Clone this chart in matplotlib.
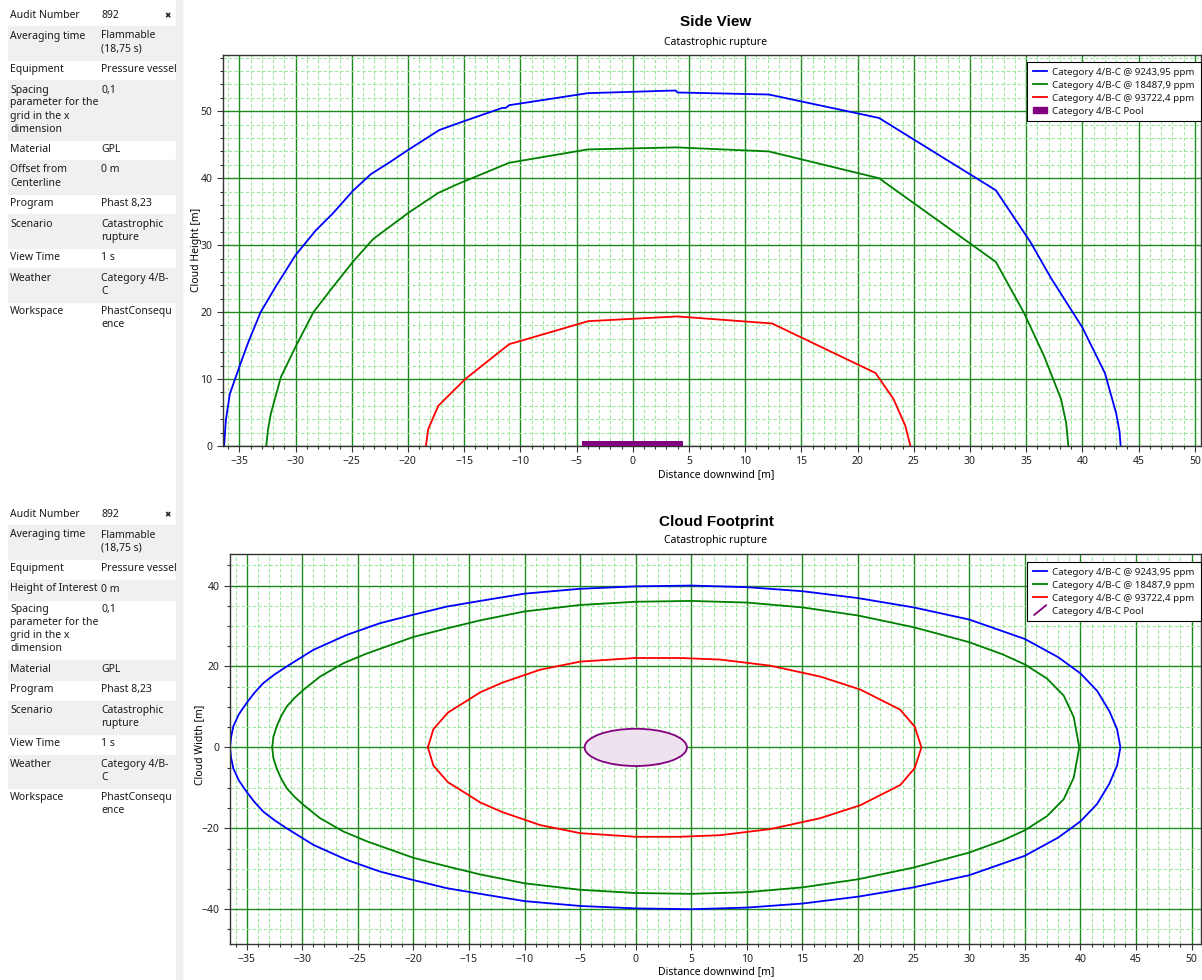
import numpy as np
import matplotlib.pyplot as plt
import matplotlib.patches as mpatches
from matplotlib.lines import Line2D
from matplotlib.legend_handler import HandlerBase
from matplotlib.ticker import MultipleLocator

plt.rcParams['font.family'] = ['Noto Sans', 'DejaVu Sans']

W, H = 1202, 980

# ---- side view (height vs distance) ----
side_blue_x = [-36.35, -36.2, -35.84, -35.0, -34.2, -33.1, -31.8, -30.0, -28.2, -26.7, -24.9, -23.3, -21.6,
               -20.0, -17.2, -14.7, -11.6, -11.3, -11.0, -4.0, 3.8, 4.0, 12.1, 21.9, 32.3, 35.4, 37.2, 40.0,
               42.0, 43.0, 43.3, 43.4]
side_blue_y = [0, 3.8, 7.8, 11.8, 15.5, 20.0, 23.7, 28.5, 32.2, 34.7, 38.1, 40.6, 42.4,
               44.2, 47.2, 48.7, 50.5, 50.5, 50.9, 52.7, 53.1, 52.8, 52.5, 49.0, 38.2, 30.4, 25.1, 17.7,
               10.9, 4.9, 2.2, 0]
side_green_x = [-32.6, -32.45, -32.2, -31.3, -30.0, -28.4, -26.7, -24.9, -23.1, -19.9, -17.3, -15.6, -11.0,
                -4.0, 3.9, 12.1, 21.9, 32.3, 34.8, 36.6, 38.1, 38.55, 38.75]
side_green_y = [0, 2.4, 4.8, 10.3, 14.8, 20.0, 23.7, 27.5, 30.9, 34.9, 37.8, 39.1, 42.3,
                44.3, 44.6, 44.0, 40.0, 27.5, 19.9, 13.4, 7.0, 3.5, 0]
side_red_x = [-18.4, -18.2, -17.3, -14.9, -11.0, -3.95, 3.98, 12.4, 21.6, 23.2, 24.25, 24.7]
side_red_y = [0, 2.5, 6.0, 10.0, 15.2, 18.65, 19.35, 18.3, 10.9, 7.0, 3.0, 0]
pool_x0, pool_x1, pool_h = -4.5, 4.5, 0.75

# ---- footprint (upper half, mirrored below) ----
foot_blue_x = [-36.5, -36.4, -36.2, -35.7, -35.0, -34.3, -33.5, -32.5, -31.4, -29.0, -26.0, -23.0, -20.0,
               -17.0, -14.0, -10.0, -5.0, 0.0, 5.0, 10.0, 15.0, 20.0, 25.0, 30.0, 35.0, 38.0, 40.0, 41.5,
               42.6, 43.3, 43.6]
foot_blue_y = [0, 2.6, 5.2, 8.2, 11.0, 13.5, 15.9, 18.0, 20.0, 24.1, 27.8, 30.7, 32.8,
               34.8, 36.2, 38.0, 39.2, 39.8, 40.0, 39.6, 38.6, 36.9, 34.6, 31.6, 26.8, 22.3, 18.3, 14.0,
               9.0, 4.5, 0]
foot_green_x = [-32.7, -32.6, -32.3, -31.9, -31.4, -30.7, -29.9, -28.4, -26.3, -24.2, -20.0, -17.0, -14.0,
                -10.0, -5.0, 0.0, 5.0, 10.0, 15.0, 20.0, 25.0, 30.0, 33.0, 35.0, 37.0, 38.5, 39.4, 39.9]
foot_green_y = [0, 2.6, 5.2, 7.7, 10.1, 12.2, 14.2, 17.5, 20.8, 23.2, 27.3, 29.4, 31.4,
                33.6, 35.2, 36.0, 36.2, 35.8, 34.6, 32.6, 29.7, 26.0, 23.0, 20.5, 17.0, 12.8, 7.5, 0]
foot_red_x = [-18.7, -18.2, -16.9, -15.2, -14.0, -12.0, -8.6, -5.0, 0.0, 4.0, 7.6, 12.1, 16.6, 20.2,
              23.8, 25.1, 25.7]
foot_red_y = [0, 4.5, 8.6, 11.5, 13.6, 16.0, 19.2, 21.2, 22.1, 22.1, 21.7, 20.2, 17.5, 14.3,
              9.3, 5.1, 0]
pool_center = (0.0, 0.0)
pool_diam = 9.2

labels = ['Category 4/B-C @ 9243,95 ppm', 'Category 4/B-C @ 18487,9 ppm',
          'Category 4/B-C @ 93722,4 ppm', 'Category 4/B-C Pool']
c_blue, c_green, c_red, c_pool = '#0000ff', '#008000', '#ff0000', '#800080'

top_fields = ['Audit Number', 'Averaging time', 'Equipment',
              'Spacing\nparameter for the\ngrid in the x\ndimension', 'Material',
              'Offset from\nCenterline', 'Program', 'Scenario', 'View Time', 'Weather', 'Workspace']
top_values = ['892', 'Flammable\n(18,75 s)', 'Pressure vessel', '0,1', 'GPL', '0 m', 'Phast 8,23',
              'Catastrophic\nrupture', '1 s', 'Category 4/B-\nC', 'PhastConsequ\nence']
bot_fields = ['Audit Number', 'Averaging time', 'Equipment', 'Height of Interest',
              'Spacing\nparameter for the\ngrid in the x\ndimension', 'Material', 'Program', 'Scenario',
              'View Time', 'Weather', 'Workspace']
bot_values = ['892', 'Flammable\n(18,75 s)', 'Pressure vessel', '0 m', '0,1', 'GPL', 'Phast 8,23',
              'Catastrophic\nrupture', '1 s', 'Category 4/B-\nC', 'PhastConsequ\nence']


def fx(px):
    return px / W


def fy(py):
    return 1 - py / H


def add_ax(fig, left, top, right, bottom):
    return fig.add_axes([fx(left), fy(bottom), (right - left) / W, (bottom - top) / H])


def style_ax(ax, xminor, ymajor, yminor):
    ax.xaxis.set_major_locator(MultipleLocator(5))
    ax.xaxis.set_minor_locator(MultipleLocator(xminor))
    ax.yaxis.set_major_locator(MultipleLocator(ymajor))
    ax.yaxis.set_minor_locator(MultipleLocator(yminor))
    ax.grid(which='minor', color='#9ce89c', ls=(0, (3, 2)), lw=0.8)
    ax.grid(which='major', color='#1f8a1f', lw=1.0)
    ax.set_axisbelow(True)
    ax.tick_params(which='both', direction='out', colors='#333333', labelsize=7.5, labelcolor='#222222')
    ax.tick_params(which='major', length=4, width=0.8)
    ax.tick_params(which='minor', length=2.5, width=0.8)
    for s in ax.spines.values():
        s.set_color('#333333')
        s.set_linewidth(1.0)


def sidebar(fig, fields, values, y0):
    y = y0
    for i, (f, v) in enumerate(zip(fields, values)):
        n = max(f.count('\n'), v.count('\n')) + 1
        h = 20.5 + 13 * (n - 1)
        if i % 2 == 1:
            fig.patches.append(mpatches.Rectangle((fx(8), fy(y + h)), (175 - 8) / W, h / H,
                                                  transform=fig.transFigure, color='#f0f0f0', zorder=0))
        fig.text(fx(10), fy(y + 4), f, fontsize=7.5, va='top', ha='left', color='#1a1a1a', linespacing=1.25)
        fig.text(fx(101), fy(y + 4), v, fontsize=7.5, va='top', ha='left', color='#1a1a1a', linespacing=1.25)
        y += h
    fig.text(fx(168), fy(y0 + 10), '\u2716', fontsize=5.5, ha='center', va='center',
             color='#222222', family='DejaVu Sans')


class DiagHandler(HandlerBase):
    def create_artists(self, legend, orig_handle, xdescent, ydescent, width, height, fontsize, trans):
        ln = Line2D([-xdescent + 1, -xdescent + width - 1], [-ydescent - 1, -ydescent + height + 1],
                    color=c_pool, lw=1.3, transform=trans)
        return [ln]


def make_legend(ax, top_px, pool_handler=None):
    hs = [Line2D([], [], color=c_blue, lw=1.3), Line2D([], [], color=c_green, lw=1.3),
          Line2D([], [], color=c_red, lw=1.3), mpatches.Patch(color=c_pool)]
    kw = {}
    if pool_handler is not None:
        kw['handler_map'] = {mpatches.Patch: pool_handler}
    leg = ax.legend(hs, labels, loc='upper left', bbox_to_anchor=(fx(1027), fy(top_px)),
                    bbox_transform=fig.transFigure, fontsize=7, frameon=True, fancybox=False,
                    framealpha=1, edgecolor='#000000', handlelength=1.5, handletextpad=0.5,
                    labelspacing=0.4, borderpad=0.6, borderaxespad=0, **kw)
    leg.get_frame().set_linewidth(0.8)
    for t in leg.get_texts():
        t.set_color('#1a1a1a')
    return leg


fig = plt.figure(figsize=(W / 100, H / 100), dpi=100)

# sidebars and separators
fig.patches.append(mpatches.Rectangle((fx(176), 0), 6 / W, 1, transform=fig.transFigure,
                                      color='#f0f0f0', zorder=0))
sidebar(fig, top_fields, top_values, 6)
sidebar(fig, bot_fields, bot_values, 505)

title_font = ['Liberation Sans', 'DejaVu Sans']

# ---- top chart ----
ax1 = add_ax(fig, 223, 55, 1201, 446)
ax1.plot(side_blue_x, side_blue_y, color=c_blue, lw=1.3)
ax1.plot(side_green_x, side_green_y, color=c_green, lw=1.3)
ax1.plot(side_red_x, side_red_y, color=c_red, lw=1.3)
ax1.bar((pool_x0 + pool_x1) / 2, pool_h, width=pool_x1 - pool_x0, bottom=0, color=c_pool, zorder=3)
ax1.set_xlim(-36.45, 50.55)
ax1.set_ylim(0, 58.4)
style_ax(ax1, 1, 10, 2)
make_legend(ax1, 62)

fig.text(fx(716), fy(22), 'Side View', fontsize=11, fontweight='bold', ha='center', va='center',
         family=title_font)
fig.text(fx(716), fy(42), 'Catastrophic rupture', fontsize=7.5, ha='center', va='center')
fig.text(fx(716), fy(475), 'Distance downwind [m]', fontsize=7.5, ha='center', va='center')
fig.text(fx(197), fy(250), 'Cloud Height [m]', fontsize=7.5, ha='center', va='center', rotation=90)

# ---- bottom chart ----
ax2 = add_ax(fig, 230, 554, 1201, 944)
for xs, ys, c in [(foot_blue_x, foot_blue_y, c_blue), (foot_green_x, foot_green_y, c_green),
                  (foot_red_x, foot_red_y, c_red)]:
    xx = list(xs) + list(xs[::-1])
    yy = list(ys) + [-v for v in ys[::-1]]
    ax2.plot(xx, yy, color=c, lw=1.3)
ax2.add_patch(mpatches.Ellipse(pool_center, pool_diam, pool_diam, facecolor='#efe2ef',
                               edgecolor=c_pool, lw=1.3, zorder=3))
ax2.set_xlim(-36.5, 50.85)
ax2.set_ylim(-48.6, 47.8)
style_ax(ax2, 1, 20, 5)
make_legend(ax2, 562, DiagHandler())

fig.text(fx(716), fy(522), 'Cloud Footprint', fontsize=11, fontweight='bold', ha='center', va='center',
         family=title_font)
fig.text(fx(716), fy(541), 'Catastrophic rupture', fontsize=7.5, ha='center', va='center')
fig.text(fx(716), fy(972), 'Distance downwind [m]', fontsize=7.5, ha='center', va='center')
fig.text(fx(200), fy(745), 'Cloud Width [m]', fontsize=7.5, ha='center', va='center', rotation=90)

fig.savefig('out.png', dpi=100)
